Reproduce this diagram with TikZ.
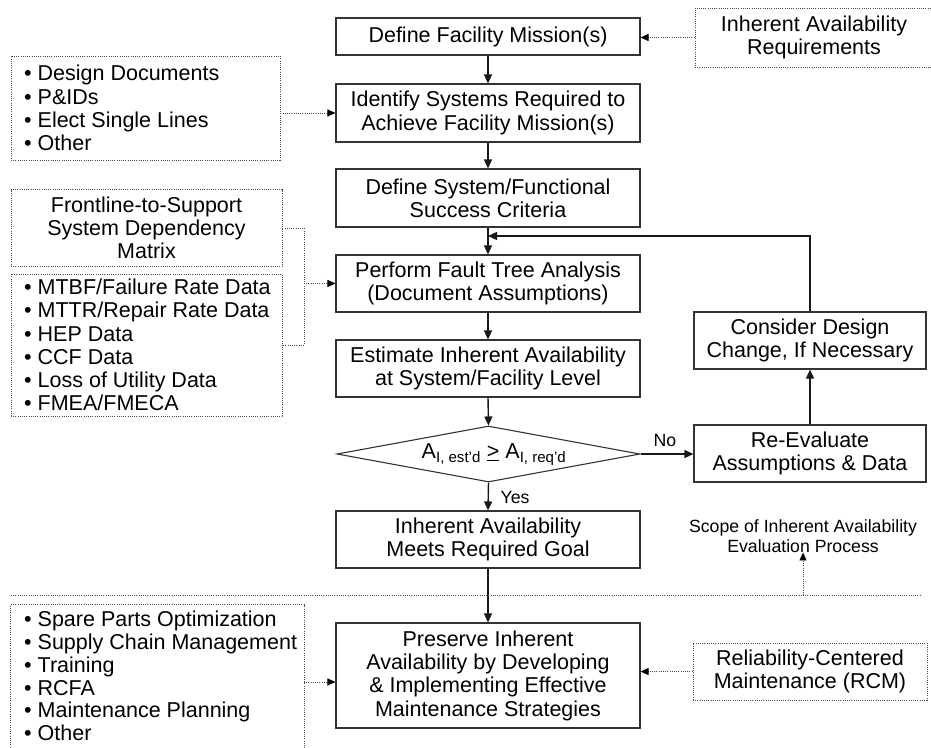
\documentclass[tikz,border=0pt]{standalone}
\usepackage{fontspec}
\setmainfont{Liberation Sans}
\usetikzlibrary{shapes.geometric,arrows.meta}
\begin{document}
\begin{tikzpicture}[x=1pt,y=-1pt,
  font=\fontsize{21.5}{23.3}\selectfont,
  mbox/.style={draw=black!80, line width=1.1pt, minimum width=304pt, align=center, inner sep=0pt},
  dbox/.style={draw=black!70, dash pattern=on 1pt off 1.2pt, line width=0.9pt, inner sep=0pt},
  dline/.style={draw=black!70, dash pattern=on 1pt off 1.2pt, line width=0.9pt},
  marrow/.style={-{Triangle[length=9pt,width=8pt]}, line width=1.4pt, draw=black!90},
  darrow/.style={dline, -{Triangle[length=8pt,width=7pt,color=black]}},
  small/.style={font=\fontsize{17.7}{19.5}\selectfont, inner sep=0pt, align=center},
  btext/.style={anchor=west, align=left, inner sep=0pt},
]
\useasboundingbox (0,0) rectangle (931,747);

% main column
\node[mbox, minimum height=37pt] (def) at (488,36.5) {Define Facility Mission(s)};
\node[mbox, minimum height=58pt] (ident) at (488,113) {Identify Systems Required to\\Achieve Facility Mission(s)};
\node[mbox, minimum height=58pt] (dsys) at (488,198) {Define System/Functional\\Success Criteria};
\node[mbox, minimum height=57pt] (fta) at (488,283.5) {Perform Fault Tree Analysis\\(Document Assumptions)};
\node[mbox, minimum height=57pt] (est) at (488,368.5) {Estimate Inherent Availability\\at System/Facility Level};
\node[draw=black!80, line width=1.1pt, shape=diamond, minimum width=303pt, minimum height=56pt, inner sep=0pt] (dia) at (488.5,454) {};
\node[inner sep=0pt] (diat) at (494,455) {A\textsubscript{I, est’d} \underline{>} A\textsubscript{I, req’d}};
\node[mbox, minimum height=57pt] (meet) at (488,539.5) {Inherent Availability\\Meets Required Goal};
\node[mbox, minimum height=105pt] (pres) at (488,675.5) {Preserve Inherent\\Availability by Developing\\\& Implementing Effective\\Maintenance Strategies};

% right column
\node[mbox, minimum width=232pt, minimum height=57pt] (cons) at (810,340.5) {Consider Design\\Change, If Necessary};
\node[mbox, minimum width=232pt, minimum height=57pt] (reev) at (810,453.5) {Re-Evaluate\\Assumptions \& Data};
\node[dbox, minimum width=238pt, minimum height=59pt, align=center] (iar) at (814,37.5) {Inherent Availability\\Requirements};
\node[dbox, minimum width=234pt, minimum height=57pt, align=center] (rcm) at (810,671.5) {Reliability-Centered\\Maintenance (RCM)};
\node[small] (scope) at (803,536) {Scope of Inherent Availability\\Evaluation Process};

% left column
\node[dbox, minimum width=269pt, minimum height=104pt] (docs) at (145.5,108) {};
\node[btext] (docst) at (24,108) {• Design Documents\\• P\&IDs\\• Elect Single Lines\\• Other};
\node[dbox, minimum width=271pt, minimum height=77pt, align=center] (ftsm) at (146.5,228) {Frontline-to-Support\\System Dependency\\Matrix};
\node[dbox, minimum width=271pt, minimum height=142pt] (data) at (146.5,345) {};
\node[btext] (datat) at (24,345) {• MTBF/Failure Rate Data\\• MTTR/Repair Rate Data\\• HEP Data\\• CCF Data\\• Loss of Utility Data\\• FMEA/FMECA};
\node[minimum width=293pt, minimum height=160pt, inner sep=0pt] (blb) at (157.5,685) {};
\node[btext, font=\fontsize{21.5}{22.8}\selectfont] (blt) at (24,676) {• Spare Parts Optimization\\• Supply Chain Management\\• Training\\• RCFA\\• Maintenance Planning\\• Other};
\draw[dline] (blb.south west) -- (blb.north west) -- (blb.north east) -- (blb.south east);

% labels
\node[small] (no) at (665,440) {No};
\node[small] (yes) at (515,497) {Yes};

% coordinates
\coordinate (fb) at (488,236);
\coordinate (brx) at (304,283.5);
\coordinate (blarr) at (304,682);
\coordinate (sepL) at (11,595);
\coordinate (sepR) at (920,595);
\coordinate (sc) at (803,595);

% main connectors
\draw[marrow] (def) -- (ident);
\draw[marrow] (ident) -- (dsys);
\draw[marrow] (dsys) -- (fta);
\draw[marrow] (fta) -- (est);
\draw[marrow] (est.south) -- (dia.north);
\draw[marrow] (dia.south) -- (meet.north);
\draw[marrow] (meet) -- (pres);
\draw[marrow] (dia.east) -- (dia.east -| reev.west);
\draw[marrow] (reev) -- (cons);
\draw[marrow] (cons.north) -- (cons.north |- fb) -- (fb);

% dotted connectors
\draw[darrow] (iar.west) -- (iar.west -| def.east);
\draw[darrow] (docs.east |- ident.west) -- (ident.west);
\draw[dline] (ftsm.east) -- (brx |- ftsm.east) -- (brx |- data.east) -- (data.east);
\draw[darrow] (brx) -- (brx -| fta.west);
\draw[darrow] (blarr) -- (blarr -| pres.west);
\draw[darrow] (rcm.west) -- (rcm.west -| pres.east);
\draw[dline] (sepL) -- (sepR);
\draw[darrow] (sc) -- (scope.south);
\end{tikzpicture}
\end{document}
